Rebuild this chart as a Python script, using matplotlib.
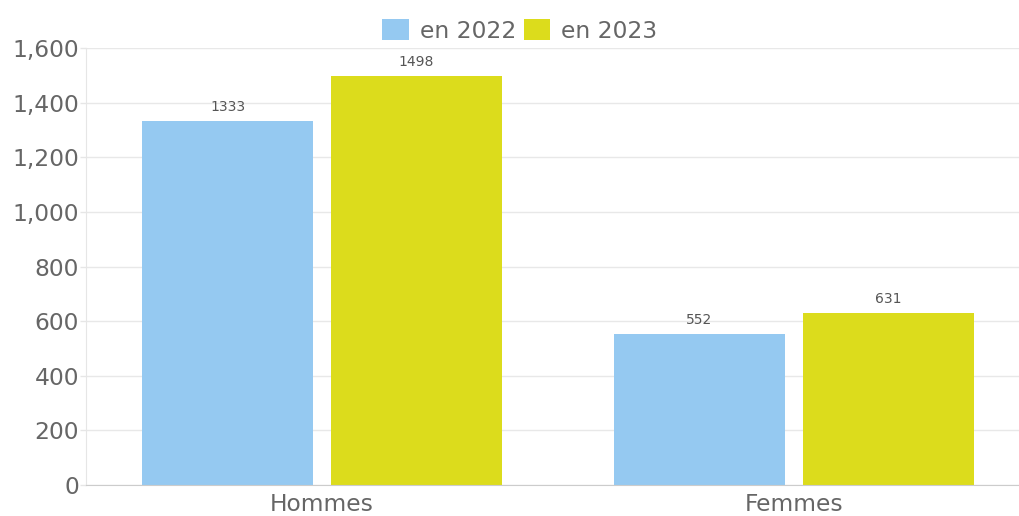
import matplotlib
matplotlib.use("Agg")
import matplotlib.pyplot as plt
import numpy as np
from matplotlib.patches import Patch
from matplotlib.ticker import FuncFormatter

categories = ["Hommes", "Femmes"]
series_names = ["en 2022", "en 2023"]
values_2022 = [1333, 552]
values_2023 = [1498, 631]
colors = ["#95C9F1", "#DCDC1C"]

fig = plt.figure(figsize=(10.2, 5.16), dpi=100)
ax = fig.add_axes([86 / 1020, 31 / 516, 933 / 1020, 437 / 516])

x = np.arange(len(categories))
width = 0.362
offsets = [-0.2, 0.2]

for vals, off, col in zip([values_2022, values_2023], offsets, colors):
    bars = ax.bar(x + off, vals, width, color=col, zorder=2)
    for b, v in zip(bars, vals):
        ax.annotate(str(v), (b.get_x() + b.get_width() / 2, v),
                    xytext=(0, 5), textcoords="offset points",
                    ha="center", va="bottom", fontsize=10, color="#555555")

ax.set_xlim(-0.5, 1.477)
ax.set_ylim(0, 1600)
ax.set_yticks(np.arange(0, 1601, 200))
ax.yaxis.set_major_formatter(FuncFormatter(lambda v, p: f"{int(v):,}"))
ax.set_xticks(x)
ax.set_xticklabels(categories)

ax.grid(axis="y", color="#e8e8e8", linewidth=1, zorder=0)
ax.tick_params(axis="y", labelsize=16.8, labelcolor="#666666", color="#e6e6e6",
               length=4, width=1, pad=1)
ax.tick_params(axis="x", labelsize=16.8, labelcolor="#666666", length=0, pad=6)

for s in ["top", "right"]:
    ax.spines[s].set_visible(False)
ax.spines["left"].set_color("#e6e6e6")
ax.spines["bottom"].set_color("#cccccc")

handles = [Patch(facecolor=c, edgecolor="none") for c in colors]
fig.legend(handles, series_names, loc="center", bbox_to_anchor=(520 / 1020, 1 - 31 / 516),
           ncol=2, frameon=False, fontsize=16.8, labelcolor="#666666",
           handlelength=1.15, handleheight=1.0, handletextpad=0.47,
           columnspacing=0.3, borderpad=0)

fig.savefig("out.png", dpi=100)
